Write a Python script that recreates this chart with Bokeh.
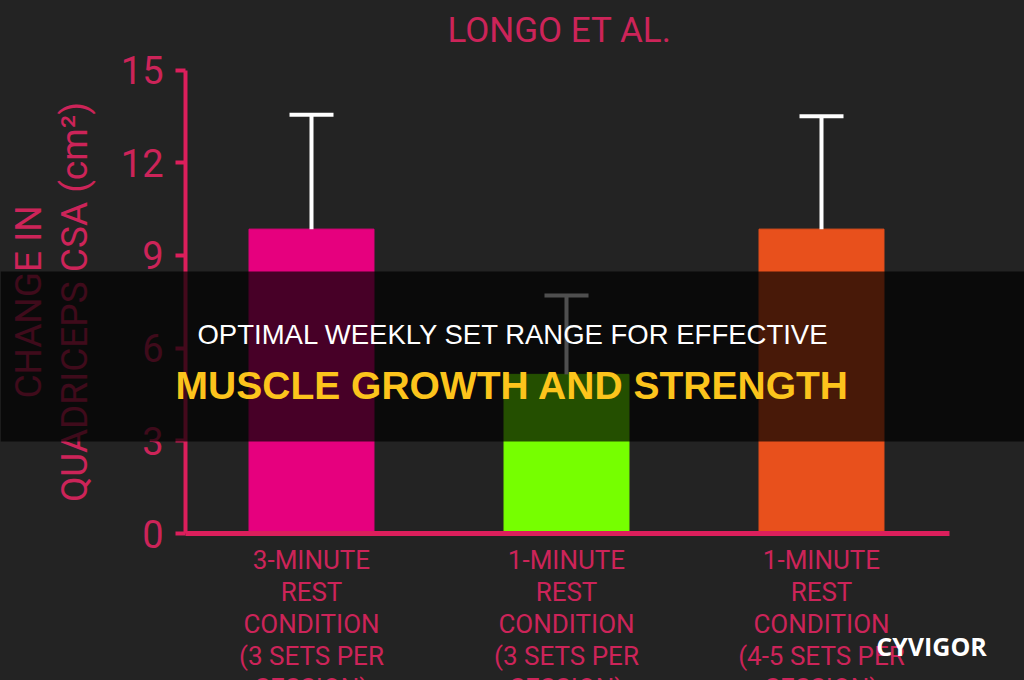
from bokeh.plotting import figure
from bokeh.models import (Range1d, ColumnDataSource, Whisker, TeeHead, BoxAnnotation,
                          Label, FixedTicker)
from bokeh.embed import file_html
from bokeh.resources import INLINE

# ---- data ----
category_lines = [
    ["3-MINUTE", "REST", "CONDITION", "(3 SETS PER", "SESSION)"],
    ["1-MINUTE", "REST", "CONDITION", "(3 SETS PER", "SESSION)"],
    ["1-MINUTE", "REST", "CONDITION", "(4-5 SETS PER", "SESSION)"],
]
mean_change = [9.85, 5.15, 9.85]
error_sd = [3.7, 2.55, 3.65]
bar_colors = ["#e6007e", "#76ff00", "#e8501c"]
y_ticks = [0, 3, 6, 9, 12, 15]

title_text = "LONGO ET AL."
y_label = "CHANGE IN\nQUADRICEPS CSA (cm\u00b2)"
banner_line1 = "OPTIMAL WEEKLY SET RANGE FOR EFFECTIVE"
banner_line2 = "MUSCLE GROWTH AND STRENGTH"
watermark = "CYVIGOR"

# ---- layout (pixels) & styling ----
W, H = 1024, 680
PX_PER_CAT = 255.0          # horizontal distance between category centres
FIRST_CAT_PX = 311.0        # centre of first category
AXIS_LEFT_PX, AXIS_RIGHT_PX = 185.0, 949.0
Y0_PX, YTOP_PX = 533.0, 69.5
BG = "#232323"
PINK = "#dc1f5c"
PINK_TXT = "#cc2459"
CHART_FONT = "Roboto"

px_per_y = (Y0_PX - YTOP_PX) / y_ticks[-1]
x_start = -FIRST_CAT_PX / PX_PER_CAT
x_end = x_start + W / PX_PER_CAT
y_start = -(H - Y0_PX) / px_per_y
y_end = y_start + H / px_per_y

n = len(category_lines)
x_idx = list(range(n))
labels = {i: "\n".join(l) for i, l in zip(x_idx, category_lines)}

src = ColumnDataSource(dict(
    x=x_idx,
    top=mean_change,
    upper=[m + e for m, e in zip(mean_change, error_sd)],
    color=bar_colors,
))

p = figure(width=W, height=H, x_range=Range1d(x_start, x_end),
           y_range=Range1d(y_start, y_end), output_backend="svg", toolbar_location=None,
           title=None, min_border=0, min_border_left=0, min_border_right=0,
           min_border_top=0, min_border_bottom=0)

p.background_fill_color = BG
p.border_fill_color = BG
p.outline_line_color = BG
p.outline_line_width = 3
p.xgrid.grid_line_color = None
p.ygrid.grid_line_color = None

p.vbar(x="x", top="top", bottom=0, width=0.49, color="color", source=src)

wh = Whisker(base="x", lower="top", upper="upper", source=src, dimension="height",
             line_color="white", line_width=4, level="glyph",
             upper_head=TeeHead(size=44, line_color="white", line_width=4),
             lower_head=None)
p.add_layout(wh)

# y axis
ya = p.yaxis[0]
ya.fixed_location = x_start + AXIS_LEFT_PX / PX_PER_CAT
ya.bounds = (y_ticks[0], y_ticks[-1])
ya.ticker = FixedTicker(ticks=y_ticks)
ya.axis_line_color = PINK
ya.axis_line_width = 4
ya.major_tick_line_color = PINK
ya.major_tick_line_width = 4
ya.major_tick_out = 10
ya.major_tick_in = 0
ya.minor_tick_line_color = None
ya.major_label_text_font = CHART_FONT
ya.major_label_text_font_size = "38px"
ya.major_label_text_color = PINK_TXT
ya.major_label_standoff = 12
ya.axis_label = y_label
ya.axis_label_text_font = CHART_FONT
ya.axis_label_text_font_size = "37px"
ya.axis_label_text_font_style = "normal"
ya.axis_label_text_color = PINK_TXT
ya.axis_label_text_line_height = 1.06
ya.axis_label_standoff = 22

# x axis
xa = p.xaxis[0]
xa.fixed_location = 0
xa.bounds = (x_start + AXIS_LEFT_PX / PX_PER_CAT, x_start + AXIS_RIGHT_PX / PX_PER_CAT)
xa.ticker = FixedTicker(ticks=x_idx)
xa.major_label_overrides = labels
xa.axis_line_color = PINK
xa.axis_line_width = 5
xa.major_tick_line_color = None
xa.major_tick_out = 0
xa.major_tick_in = 0
xa.minor_tick_line_color = None
xa.major_label_text_font = CHART_FONT
xa.major_label_text_font_size = "26px"
xa.major_label_text_color = PINK_TXT
xa.major_label_text_line_height = 1.07
xa.major_label_standoff = 11

# title
p.add_layout(Label(x=559, y=30, x_units="canvas", y_units="canvas", text=title_text,
                   text_align="center", text_baseline="middle", text_font=CHART_FONT,
                   text_font_size="35px", text_color=PINK_TXT))

# overlay banner across the whole picture
p.add_layout(BoxAnnotation(top=271, bottom=441, top_units="canvas", bottom_units="canvas",
                           fill_color="black", fill_alpha=0.69, line_color=None,
                           level="overlay"))
p.add_layout(Label(x=513, y=334, x_units="canvas", y_units="canvas", text=banner_line1,
                   text_align="center", text_baseline="middle", text_font="Liberation Sans",
                   text_font_size="27.5px", text_color="white", level="overlay"))
p.add_layout(Label(x=512, y=385, x_units="canvas", y_units="canvas", text=banner_line2,
                   text_align="center", text_baseline="middle", text_font="Liberation Sans",
                   text_font_size="39px", text_font_style="bold", text_color="#fcc41c",
                   level="overlay"))
p.add_layout(Label(x=931, y=645, x_units="canvas", y_units="canvas", text=watermark,
                   text_align="center", text_baseline="middle", text_font="Open Sans",
                   text_font_size="25px", text_font_style="bold", text_color="white",
                   level="overlay"))

open("out.html", "w").write(file_html(p, INLINE))
